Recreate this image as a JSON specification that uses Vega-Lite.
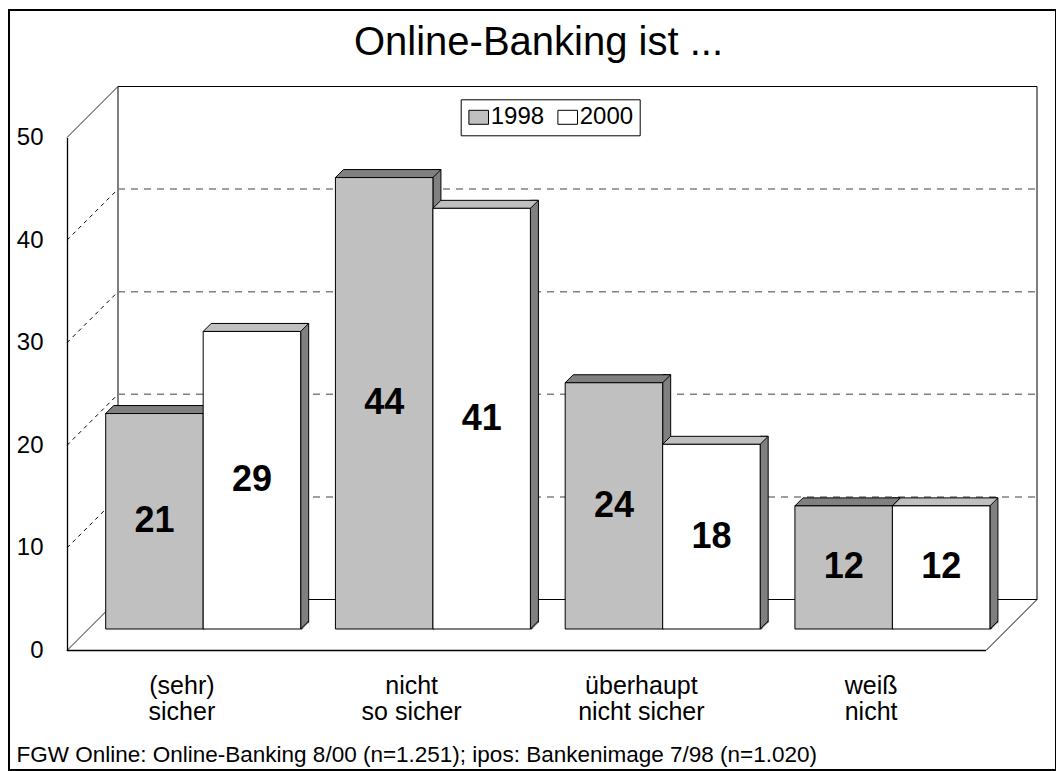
{
  "$schema": "https://vega.github.io/schema/vega-lite/v6.json",
  "width": 1047,
  "height": 760,
  "autosize": {"type": "none"},
  "padding": {"left": 9, "top": 10, "right": 0, "bottom": 1},
  "background": "white",
  "title": {
    "text": "Online-Banking ist ...",
    "fontSize": 40,
    "font": "Liberation Sans",
    "fontWeight": "normal",
    "color": "black",
    "anchor": "middle",
    "baseline": "alphabetic",
    "offset": -85,
    "dx": 6
  },
  "datasets": {
    "bars": [
      {"cat": "(sehr) sicher", "year": "1998", "v": 21},
      {"cat": "(sehr) sicher", "year": "2000", "v": 29},
      {"cat": "nicht so sicher", "year": "1998", "v": 44},
      {"cat": "nicht so sicher", "year": "2000", "v": 41},
      {"cat": "überhaupt nicht sicher", "year": "1998", "v": 24},
      {"cat": "überhaupt nicht sicher", "year": "2000", "v": 18},
      {"cat": "weiß nicht", "year": "1998", "v": 12},
      {"cat": "weiß nicht", "year": "2000", "v": 12}
    ],
    "ticks": [{"t": 0}, {"t": 10}, {"t": 20}, {"t": 30}, {"t": 40}, {"t": 50}],
    "one": [{"k": 1}]
  },
  "resolve": {"scale": {"x": "independent"}},
  "layer": [
    {
      "layer": [
        {
          "data": {"name": "one"},
          "mark": {"type": "rect", "fill": "white", "stroke": "black", "strokeWidth": 1, "xOffset": 51, "x2Offset": 51, "yOffset": -51, "y2Offset": -51},
          "encoding": {
            "x": {"datum": 0, "type": "quantitative", "scale": {"domain": [0, 1], "range": [58, 977]}, "axis": null},
            "x2": {"datum": 1},
            "y": {"datum": 0, "type": "quantitative", "scale": {"domain": [0, 50], "range": [640.5, 127.5], "nice": false, "zero": true},
                  "axis": {"values": [0, 10, 20, 30, 40, 50], "title": null, "grid": false, "offset": -58, "ticks": false, "tickSize": 0, "labelPadding": 24, "labelFontSize": 24, "labelFont": "Liberation Sans", "labelColor": "black", "domainColor": "black", "domainWidth": 1.3}},
            "y2": {"datum": 50}
          }
        },
        {
          "data": {"name": "ticks"},
          "transform": [{"filter": "datum.t > 0 && datum.t < 50"}],
          "mark": {"type": "rule", "stroke": "#808080", "strokeWidth": 1.5, "strokeDash": [7, 6], "xOffset": 51, "x2Offset": 51, "yOffset": -51, "y2Offset": -51},
          "encoding": {
            "x": {"datum": 0, "type": "quantitative", "axis": null},
            "x2": {"datum": 1},
            "y": {"field": "t", "type": "quantitative"},
            "y2": {"field": "t"}
          }
        },
        {
          "data": {"name": "ticks"},
          "mark": {"type": "rule", "stroke": "black", "strokeWidth": 1, "x2Offset": 51, "y2Offset": -51},
          "encoding": {
            "x": {"datum": 0, "type": "quantitative", "axis": null},
            "x2": {"datum": 0},
            "y": {"field": "t", "type": "quantitative"},
            "y2": {"field": "t"},
            "strokeDash": {"condition": {"test": "datum.t == 0 || datum.t == 50", "value": [1, 0]}, "value": [4, 4]}
          }
        },
        {
          "data": {"name": "one"},
          "mark": {"type": "rule", "stroke": "black", "strokeWidth": 1, "x2Offset": 51, "y2Offset": -51},
          "encoding": {
            "x": {"datum": 1, "type": "quantitative", "axis": null},
            "x2": {"datum": 1},
            "y": {"datum": 0, "type": "quantitative"},
            "y2": {"datum": 0}
          }
        },
        {
          "data": {"name": "one"},
          "mark": {"type": "rule", "stroke": "black", "strokeWidth": 1.3},
          "encoding": {
            "x": {"datum": 0, "type": "quantitative", "axis": null},
            "x2": {"datum": 1},
            "y": {"datum": 0, "type": "quantitative"}
          }
        }
      ]
    },
    {
      "data": {"name": "bars"},
      "transform": [{"calculate": "datum.v / 2", "as": "mid"}],
      "layer": [
        {
          "transform": [{"filter": "datum.year == '1998'"}],
          "mark": {"type": "bar", "width": 8, "xOffset": 4, "yOffset": -29.5, "y2Offset": -21.5, "fill": "#808080", "stroke": "black", "strokeWidth": 1},
          "encoding": {
            "x": {"field": "cat", "type": "nominal", "sort": null, "scale": {"type": "band", "range": [79.3, 998.3], "paddingInner": 0.1513, "paddingOuter": 0.0757},
                  "axis": {"title": "FGW Online: Online-Banking 8/00 (n=1.251); ipos: Bankenimage 7/98 (n=1.020)", "labelExpr": "[slice(datum.label, 0, indexof(datum.label, ' ')), slice(datum.label, indexof(datum.label, ' ') + 1)]", "offset": -119.5, "domain": false, "ticks": false, "tickSize": 0, "labelOffset": -21.3, "labelPadding": 22.5, "labelFontSize": 25, "labelFont": "Liberation Sans", "labelColor": "black", "labelLineHeight": 26, "labelBaseline": "top", "labelAngle": 0, "grid": false, "titleX": 7, "titleY": 110.5, "titleAlign": "left", "titleAnchor": "start", "titleBaseline": "alphabetic", "titleFontSize": 22.5, "titleFont": "Liberation Sans", "titleFontWeight": "normal", "titleColor": "black"}},
            "y": {"field": "v", "type": "quantitative"},
            "y2": {"datum": 0}
          }
        },
        {
          "transform": [{"filter": "datum.year == '2000'"}],
          "mark": {"type": "bar", "width": 8, "xOffset": 101.5, "yOffset": -29.5, "y2Offset": -21.5, "fill": "#808080", "stroke": "black", "strokeWidth": 1},
          "encoding": {
            "x": {"field": "cat", "type": "nominal", "sort": null},
            "y": {"field": "v", "type": "quantitative"},
            "y2": {"datum": 0}
          }
        },
        {
          "mark": {"type": "point", "shape": "M49.55,0.9L57.65,-7.2L57.65,0.9Z", "size": 4, "filled": true, "fill": "white", "strokeWidth": 0, "opacity": 1, "yOffset": -21.5},
          "encoding": {
            "x": {"field": "cat", "type": "nominal", "sort": null},
            "xOffset": {"field": "year", "type": "nominal", "scale": {"paddingInner": 0, "paddingOuter": 0}},
            "y": {"datum": 0, "type": "quantitative"}
          }
        },
        {
          "mark": {"type": "point", "shape": "M48.75,0L56.75,-8", "size": 4, "filled": false, "fill": "transparent", "stroke": "black", "strokeWidth": 1, "opacity": 1, "yOffset": -21.5},
          "encoding": {
            "x": {"field": "cat", "type": "nominal", "sort": null},
            "xOffset": {"field": "year", "type": "nominal"},
            "y": {"datum": 0, "type": "quantitative"}
          }
        },
        {
          "mark": {"type": "point", "shape": "M-48.75,0L48.75,0L56.75,-8L-40.75,-8Z", "size": 4, "filled": true, "stroke": "black", "strokeWidth": 1, "opacity": 1, "yOffset": -21.5},
          "encoding": {
            "x": {"field": "cat", "type": "nominal", "sort": null},
            "xOffset": {"field": "year", "type": "nominal"},
            "y": {"field": "v", "type": "quantitative"},
            "fill": {"condition": {"test": "datum.year == '1998'", "value": "#808080"}, "value": "#c0c0c0"}
          }
        },
        {
          "mark": {"type": "bar", "yOffset": -21.5, "y2Offset": -21.5, "stroke": "black", "strokeWidth": 1},
          "encoding": {
            "x": {"field": "cat", "type": "nominal", "sort": null},
            "xOffset": {"field": "year", "type": "nominal"},
            "y": {"field": "v", "type": "quantitative"},
            "y2": {"datum": 0},
            "fill": {"field": "year", "type": "nominal", "scale": {"domain": ["1998", "2000"], "range": ["#c0c0c0", "#ffffff"]},
                     "legend": {"orient": "none", "legendX": 451.7, "legendY": 89.3, "direction": "horizontal", "title": null, "labelFontSize": 24, "labelFont": "Liberation Sans", "labelColor": "black", "strokeColor": "black", "fillColor": "white", "padding": 6, "symbolType": "M-1.4,-1H1.4V1H-1.4Z", "symbolSize": 196, "symbolStrokeColor": "black", "symbolStrokeWidth": 1, "symbolOpacity": 1, "labelOffset": 0, "columnPadding": 11}}
          }
        },
        {
          "mark": {"type": "text", "font": "Liberation Sans", "fontSize": 36, "fontWeight": "bold", "color": "black", "baseline": "middle", "align": "center", "yOffset": -21.5},
          "encoding": {
            "x": {"field": "cat", "type": "nominal", "sort": null},
            "xOffset": {"field": "year", "type": "nominal"},
            "y": {"field": "mid", "type": "quantitative"},
            "text": {"field": "v", "type": "quantitative"}
          }
        }
      ]
    }
  ],
  "config": {
    "view": {"stroke": "black", "strokeWidth": 2},
    "font": "Liberation Sans"
  }
}
